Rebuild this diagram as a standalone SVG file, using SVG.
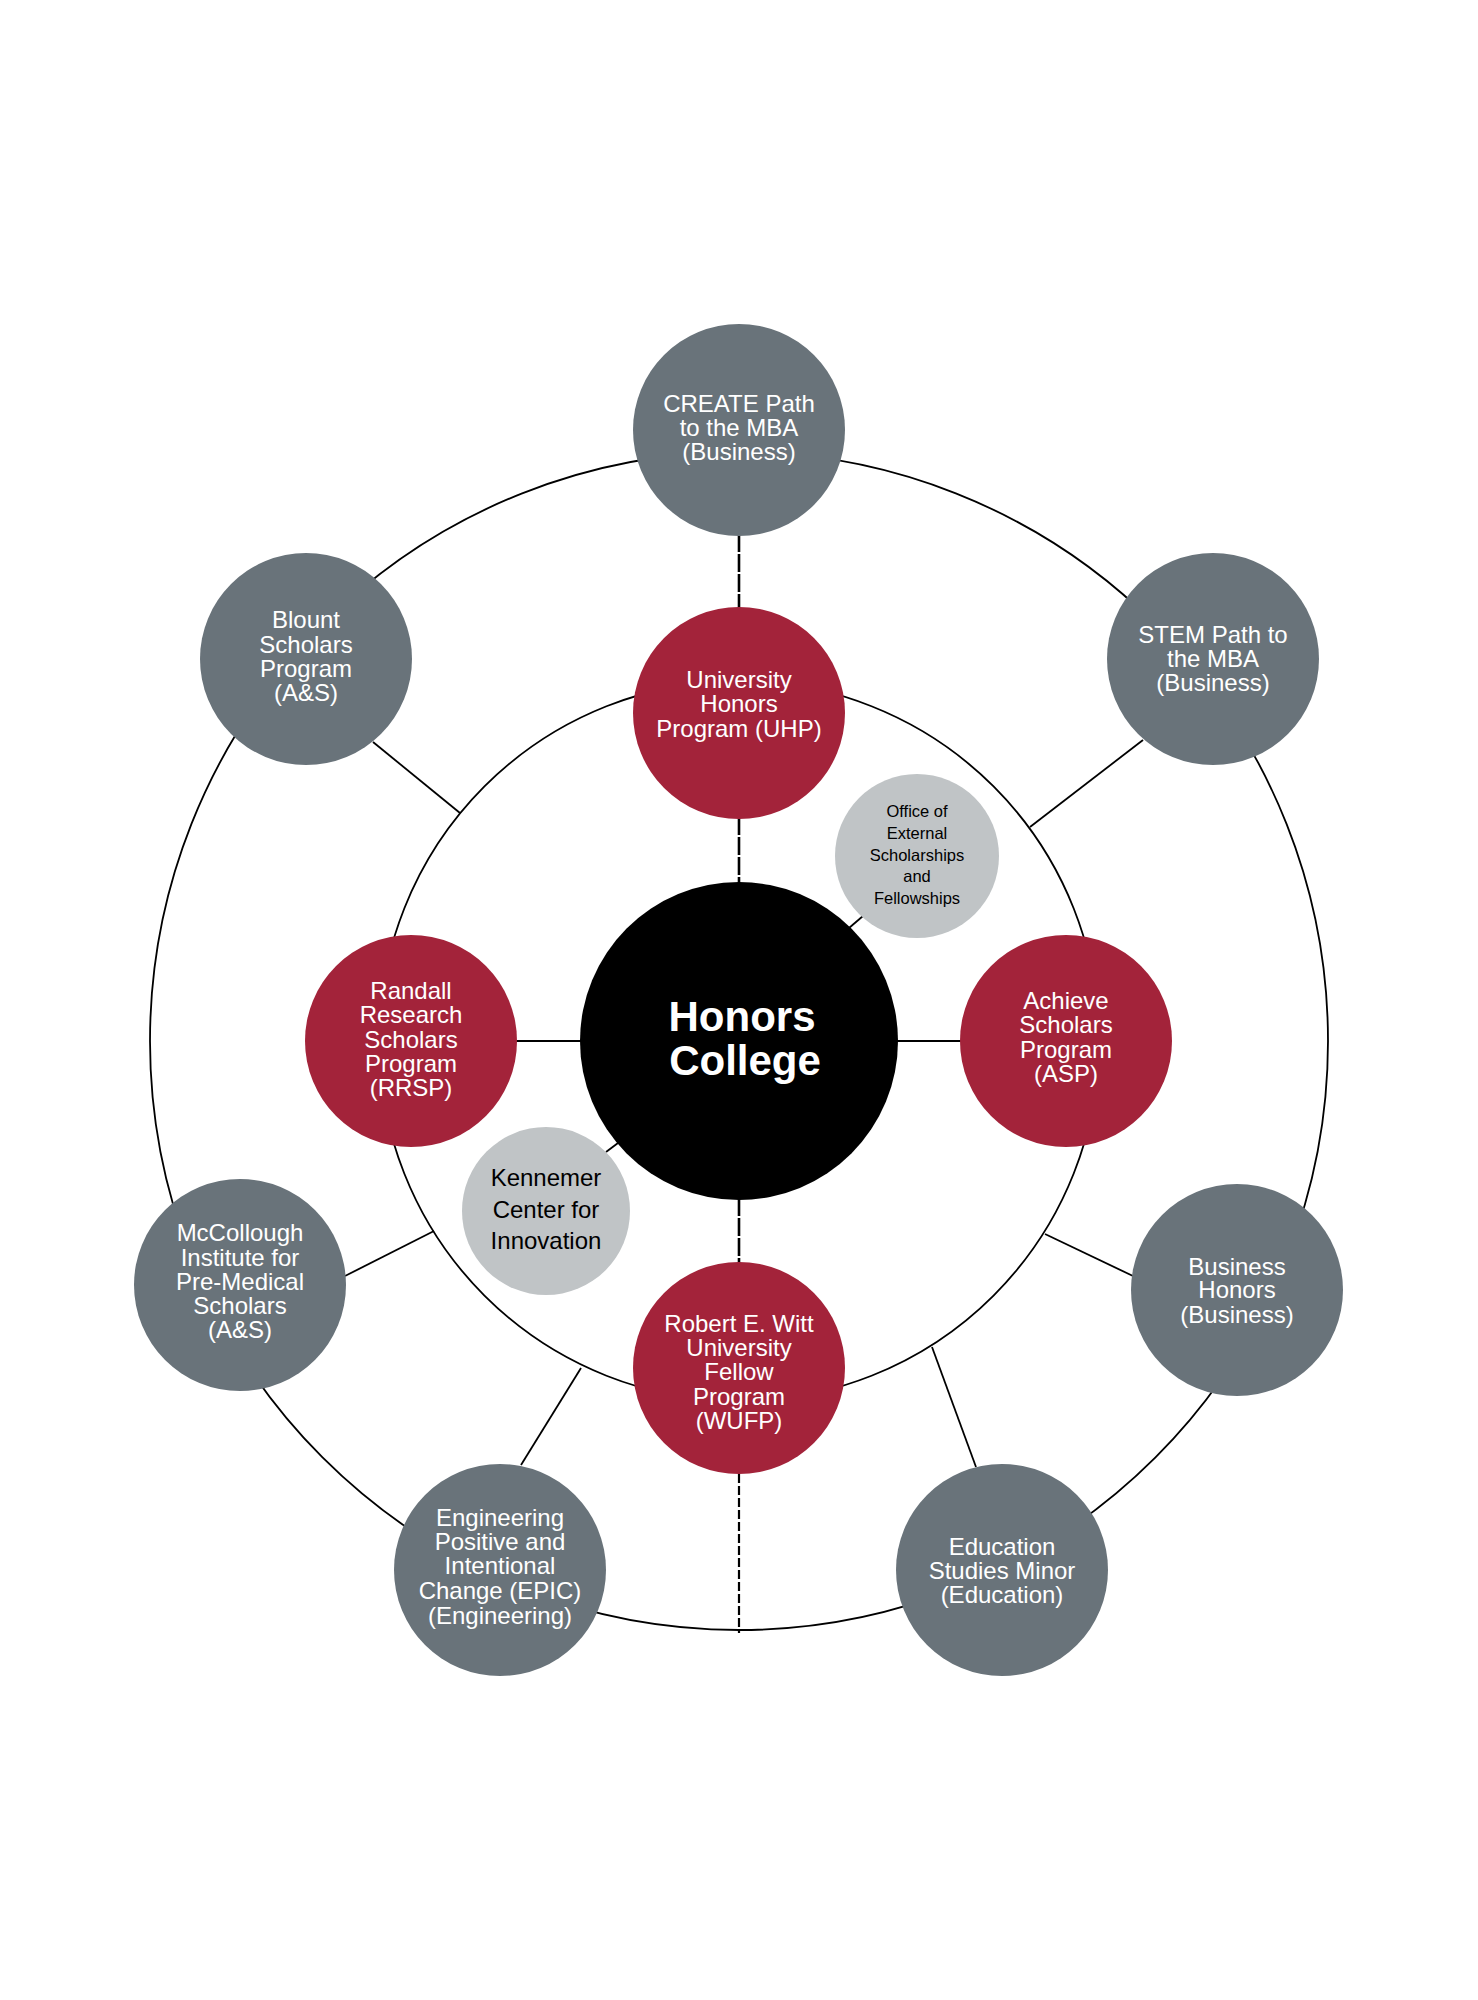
<svg xmlns="http://www.w3.org/2000/svg" width="1478" height="2000" viewBox="0 0 1478 2000">
<style>
.ln{stroke:#000;stroke-width:1.8;fill:none}
.sp{stroke:#000;stroke-width:2.6;fill:none;stroke-dasharray:18 2}
.dash{stroke:#000;stroke-width:2.2;fill:none;stroke-dasharray:9 3}
.gray{fill:#69737A}
.red{fill:#A3233A}
.lite{fill:#C0C4C6}
.t{font-family:"Liberation Sans",Arial,sans-serif;font-size:24px;fill:#fff;text-anchor:middle}
.tk{font-family:"Liberation Sans",Arial,sans-serif;font-size:24px;fill:#000;text-anchor:middle}
.ts{font-family:"Liberation Sans",Arial,sans-serif;font-size:16.5px;fill:#000;text-anchor:middle}
.tb{font-family:"Liberation Sans",Arial,sans-serif;font-size:42px;font-weight:bold;fill:#fff;text-anchor:middle}
</style>
<rect width="1478" height="2000" fill="#fff"/>
<g id="connectors">
<circle class="ln" cx="739" cy="1041" r="589"/>
<circle class="ln" cx="739" cy="1041" r="360"/>
<line class="sp" x1="739" y1="534" x2="739" y2="609"/>
<line class="sp" x1="739" y1="817" x2="739" y2="884"/>
<line class="sp" x1="739" y1="1198" x2="739" y2="1264"/>
<line class="dash" x1="739" y1="1474" x2="739" y2="1633"/>
<line class="ln" x1="514" y1="1041" x2="583" y2="1041"/>
<line class="ln" x1="895" y1="1041" x2="963" y2="1041"/>
<line class="ln" x1="863" y1="916" x2="849" y2="928"/>
<line class="ln" x1="606" y1="1152" x2="618" y2="1143"/>
<line class="ln" x1="373" y1="742" x2="460" y2="813"/>
<line class="ln" x1="1143" y1="740" x2="1030" y2="827"/>
<line class="ln" x1="345" y1="1276" x2="434" y2="1231"/>
<line class="ln" x1="1133" y1="1276" x2="1045" y2="1234"/>
<line class="ln" x1="521" y1="1465" x2="581" y2="1368"/>
<line class="ln" x1="976" y1="1467" x2="932" y2="1347"/>
</g>
<g id="create"><circle class="gray" cx="739" cy="430" r="106"/>
<text class="t" x="739" y="412">CREATE Path</text><text class="t" x="739" y="436">to the MBA</text><text class="t" x="739" y="460">(Business)</text></g>
<g id="uhp"><circle class="red" cx="739" cy="713" r="106"/>
<text class="t" x="739" y="688">University</text><text class="t" x="739" y="712">Honors</text><text class="t" x="739" y="737">Program (UHP)</text></g>
<g id="honors-college"><circle fill="#000" cx="739" cy="1041" r="159"/>
<text class="tb" x="742" y="1031">Honors</text><text class="tb" x="745" y="1075">College</text></g>
<g id="office"><circle class="lite" cx="917" cy="856" r="82"/>
<text class="ts" x="917" y="817">Office of</text><text class="ts" x="917" y="839">External</text><text class="ts" x="917" y="861">Scholarships</text><text class="ts" x="917" y="882">and</text><text class="ts" x="917" y="904">Fellowships</text></g>
<g id="kennemer"><circle class="lite" cx="546" cy="1211" r="84"/>
<text class="tk" x="546" y="1186">Kennemer</text><text class="tk" x="546" y="1218">Center for</text><text class="tk" x="546" y="1249">Innovation</text></g>
<g id="blount"><circle class="gray" cx="306" cy="659" r="106"/>
<text class="t" x="306" y="628">Blount</text><text class="t" x="306" y="653">Scholars</text><text class="t" x="306" y="677">Program</text><text class="t" x="306" y="701">(A&amp;S)</text></g>
<g id="stem"><circle class="gray" cx="1213" cy="659" r="106"/>
<text class="t" x="1213" y="643">STEM Path to</text><text class="t" x="1213" y="667">the MBA</text><text class="t" x="1213" y="691">(Business)</text></g>
<g id="randall"><circle class="red" cx="411" cy="1041" r="106"/>
<text class="t" x="411" y="999">Randall</text><text class="t" x="411" y="1023">Research</text><text class="t" x="411" y="1048">Scholars</text><text class="t" x="411" y="1072">Program</text><text class="t" x="411" y="1096">(RRSP)</text></g>
<g id="achieve"><circle class="red" cx="1066" cy="1041" r="106"/>
<text class="t" x="1066" y="1009">Achieve</text><text class="t" x="1066" y="1033">Scholars</text><text class="t" x="1066" y="1058">Program</text><text class="t" x="1066" y="1082">(ASP)</text></g>
<g id="mccollough"><circle class="gray" cx="240" cy="1285" r="106"/>
<text class="t" x="240" y="1241">McCollough</text><text class="t" x="240" y="1266">Institute for</text><text class="t" x="240" y="1290">Pre-Medical</text><text class="t" x="240" y="1314">Scholars</text><text class="t" x="240" y="1338">(A&amp;S)</text></g>
<g id="business-honors"><circle class="gray" cx="1237" cy="1290" r="106"/>
<text class="t" x="1237" y="1275">Business</text><text class="t" x="1237" y="1298">Honors</text><text class="t" x="1237" y="1323">(Business)</text></g>
<g id="wufp"><circle class="red" cx="739" cy="1368" r="106"/>
<text class="t" x="739" y="1332">Robert E. Witt</text><text class="t" x="739" y="1356">University</text><text class="t" x="739" y="1380">Fellow</text><text class="t" x="739" y="1405">Program</text><text class="t" x="739" y="1429">(WUFP)</text></g>
<g id="epic"><circle class="gray" cx="500" cy="1570" r="106"/>
<text class="t" x="500" y="1526">Engineering</text><text class="t" x="500" y="1550">Positive and</text><text class="t" x="500" y="1574">Intentional</text><text class="t" x="500" y="1599">Change (EPIC)</text><text class="t" x="500" y="1624">(Engineering)</text></g>
<g id="education"><circle class="gray" cx="1002" cy="1570" r="106"/>
<text class="t" x="1002" y="1555">Education</text><text class="t" x="1002" y="1579">Studies Minor</text><text class="t" x="1002" y="1603">(Education)</text></g>
</svg>
